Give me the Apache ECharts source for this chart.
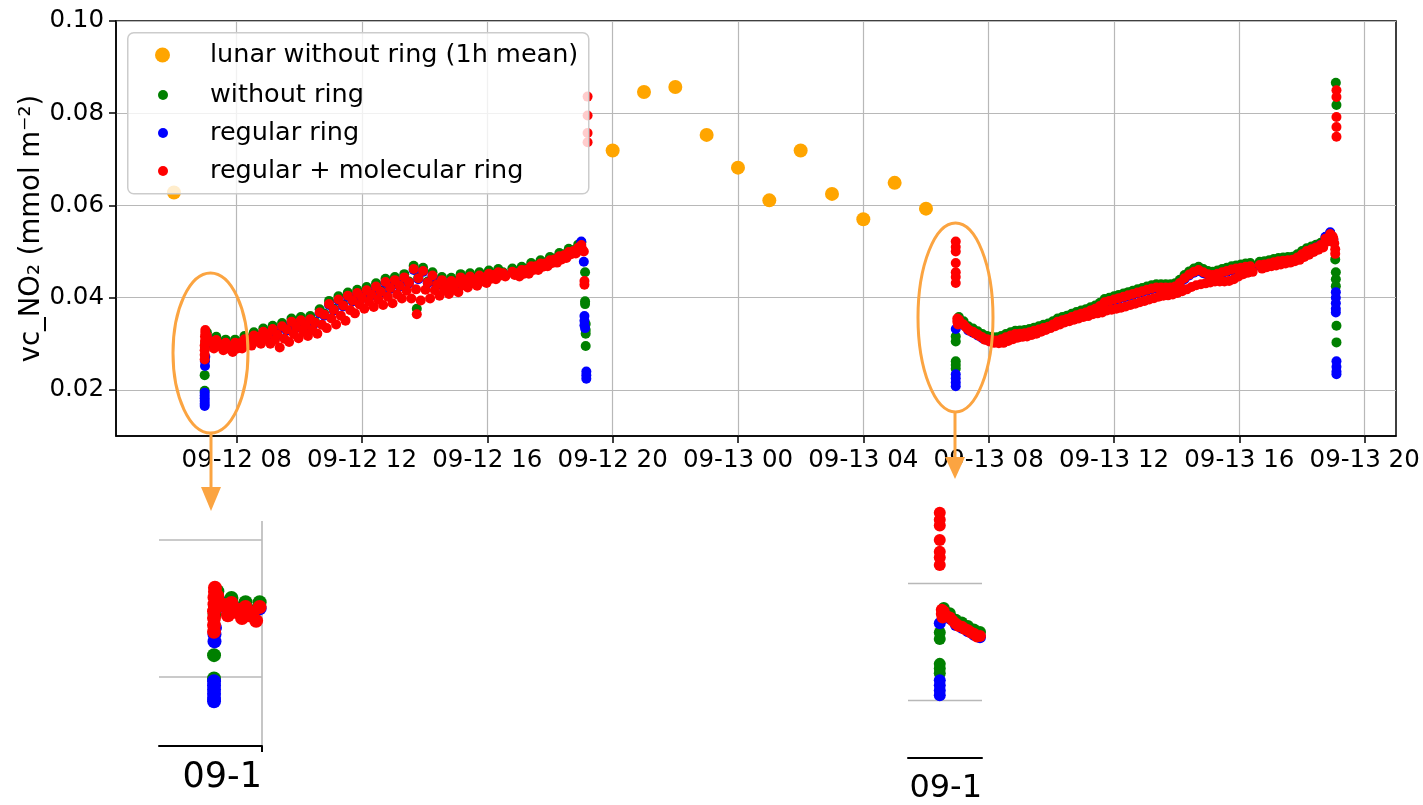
<!DOCTYPE html>
<html>
<head>
<meta charset="utf-8">
<title>vc_NO2</title>
<script src="https://cdn.jsdelivr.net/npm/echarts@6/dist/echarts.min.js"></script>
<style>
body{margin:0;background:#fff;}
#main{width:1423px;height:805px;}
</style>
</head>
<body>
<div id="main"></div>
<script>
// x = hours since 09-12 00:00
var names = ['lunar without ring (1h mean)', 'without ring', 'regular ring', 'regular + molecular ring'];
var xTicks = [8, 12, 16, 20, 24, 28, 32, 36, 40, 44];
var yTicks = [0.02, 0.04, 0.06, 0.08, 0.10];

var lunarPts = [[6.0,0.0628],[20,0.0719],[21,0.0846],[22,0.0857],[23,0.0753],[24,0.0682],
	[25,0.0611],[26,0.0719],[27,0.0625],[28,0.0570],[29,0.0649],[30,0.0593]];

// day 1 (09-12), upper part of the band
var d1Time = [7.05,7.2,7.35,7.5,7.65,7.8,7.95,8.1,8.25,8.4,8.55,8.7,8.85,9.0,9.15,9.3,9.45,9.6,9.75,9.9,
	10.05,10.2,10.35,10.5,10.65,10.8,10.95,11.1,11.25,11.4,11.55,11.7,11.85,12.0,12.15,12.3,12.45,12.6,12.75,12.9,
	13.05,13.2,13.35,13.5,13.65,13.8,13.95,14.1,14.25,14.4,14.55,14.7,14.85,15.0,15.15,15.3,15.45,15.6,15.75,15.9,
	16.05,16.2,16.35,16.5,16.8,16.95,17.1,17.25,17.4,17.55,17.7,17.85,18.0,18.15,18.3,18.45,18.6,18.75,18.9,19.0];
var d1Green = [.0325,.0307,.0315,.0300,.0309,.0296,.0309,.0303,.0317,.0310,.0325,.0317,.0333,.0322,.0339,.0322,.0345,.0333,.0355,.0339,
	.0358,.0342,.0360,.0348,.0375,.0365,.0393,.0376,.0403,.0385,.0411,.0396,.0417,.0402,.0423,.0409,.0431,.0415,.0441,.0423,
	.0445,.0428,.0451,.0435,.0469,.0444,.0465,.0435,.0455,.0431,.0445,.0429,.0443,.0433,.0451,.0440,.0453,.0441,.0455,.0446,
	.0459,.0451,.0462,.0455,.0463,.0455,.0467,.0462,.0475,.0470,.0481,.0476,.0488,.0485,.0497,.0494,.0506,.0503,.0515,.0520];
var d1Blue = [.0316,.0303,.0306,.0296,.0300,.0292,.0300,.0299,.0308,.0306,.0316,.0313,.0324,.0318,.0330,.0318,.0336,.0329,.0346,.0335,
	.0349,.0338,.0351,.0344,.0366,.0361,.0384,.0372,.0394,.0381,.0402,.0392,.0408,.0398,.0414,.0405,.0422,.0411,.0432,.0419,
	.0436,.0424,.0442,.0431,.0460,.0440,.0456,.0431,.0446,.0427,.0436,.0425,.0434,.0429,.0442,.0436,.0444,.0437,.0446,.0442,
	.0450,.0447,.0453,.0451,.0454,.0451,.0458,.0458,.0466,.0466,.0472,.0472,.0479,.0481,.0488,.0490,.0497,.0499,.0506,.0522];
var d1Red = [.0318,.0305,.0308,.0298,.0302,.0294,.0302,.0301,.0310,.0308,.0318,.0315,.0326,.0320,.0332,.0320,.0338,.0331,.0348,.0337,
	.0351,.0340,.0353,.0346,.0368,.0363,.0386,.0374,.0396,.0383,.0404,.0394,.0410,.0400,.0416,.0407,.0424,.0413,.0434,.0421,
	.0438,.0426,.0444,.0433,.0462,.0442,.0458,.0433,.0448,.0429,.0438,.0427,.0436,.0431,.0444,.0438,.0446,.0439,.0448,.0444,
	.0452,.0449,.0455,.0453,.0456,.0453,.0460,.0460,.0468,.0468,.0474,.0474,.0481,.0483,.0490,.0492,.0499,.0501,.0508,.0514];
// day 1, lower part of the band
var d1TimeB = [7.125,7.275,7.425,7.575,7.725,7.875,8.025,8.175,8.325,8.475,8.625,8.775,8.925,9.075,9.225,9.375,9.525,9.675,9.825,9.975,
	10.125,10.275,10.425,10.575,10.725,10.875,11.025,11.175,11.325,11.475,11.625,11.775,11.925,12.075,12.225,12.375,12.525,12.675,12.825,12.975,
	13.125,13.275,13.425,13.575,13.725,13.875,14.025,14.175,14.325,14.475,14.625,14.775,14.925,15.075,15.225,15.375,15.525,15.675,15.825,15.975,
	16.125,16.275,16.425,16.575,16.875,17.025,17.175,17.325,17.475,17.625,17.775,17.925,18.075,18.225,18.375,18.525,18.675,18.825,18.975,19.04];
var d1RedB = [.0305,.0290,.0295,.0286,.0290,.0282,.0290,.0290,.0299,.0296,.0305,.0300,.0310,.0300,.0308,.0292,.0311,.0304,.0321,.0312,
	.0327,.0317,.0330,.0322,.0341,.0334,.0355,.0342,.0361,.0350,.0373,.0366,.0385,.0376,.0391,.0380,.0396,.0384,.0402,.0388,
	.0407,.0398,.0415,.0398,.0418,.0394,.0417,.0398,.0416,.0404,.0417,.0408,.0417,.0412,.0427,.0422,.0431,.0426,.0435,.0432,
	.0441,.0440,.0448,.0446,.0449,.0446,.0452,.0452,.0460,.0460,.0467,.0468,.0475,.0476,.0483,.0486,.0494,.0496,.0503,.0504];

// day 2 (09-13), upper part of the band
var d2Time = [31.05,31.2,31.35,31.5,31.65,31.8,31.95,32.1,32.25,32.4,32.55,32.7,32.85,33.0,33.15,33.3,33.45,33.6,33.75,33.9,
	34.05,34.2,34.35,34.5,34.65,34.8,34.95,35.1,35.25,35.4,35.55,35.7,35.85,36.0,36.15,36.3,36.45,36.6,36.75,36.9,
	37.05,37.2,37.35,37.5,37.65,37.8,37.95,38.1,38.25,38.4,38.55,38.7,38.85,39.0,39.15,39.3,39.45,39.6,39.75,39.9,
	40.05,40.2,40.35,40.65,40.8,40.95,41.1,41.25,41.4,41.55,41.7,41.85,42.0,42.15,42.3,42.45,42.6,42.75,42.9,43.0];
var d2Green = [.0358,.0349,.0338,.0333,.0327,.0321,.0317,.0315,.0314,.0317,.0321,.0325,.0328,.0329,.0330,.0332,.0335,.0338,.0341,.0344,
	.0349,.0355,.0358,.0361,.0365,.0369,.0372,.0375,.0379,.0383,.0389,.0397,.0400,.0403,.0406,.0409,.0412,.0415,.0418,.0421,
	.0424,.0427,.0429,.0429,.0429,.0429,.0431,.0439,.0449,.0457,.0463,.0467,.0462,.0458,.0456,.0459,.0462,.0465,.0468,.0470,
	.0472,.0474,.0475,.0478,.0479,.0481,.0484,.0486,.0487,.0488,.0489,.0494,.0501,.0507,.0511,.0515,.0519,.0531,.0540,.0520];
var d2Blue = [.0350,.0340,.0329,.0324,.0318,.0312,.0308,.0306,.0305,.0308,.0312,.0316,.0319,.0320,.0321,.0323,.0326,.0329,.0332,.0335,
	.0340,.0346,.0349,.0352,.0356,.0360,.0363,.0366,.0370,.0374,.0380,.0388,.0391,.0394,.0397,.0400,.0403,.0406,.0409,.0412,
	.0415,.0418,.0420,.0420,.0420,.0420,.0422,.0430,.0440,.0448,.0454,.0458,.0453,.0449,.0447,.0450,.0453,.0456,.0459,.0461,
	.0463,.0465,.0466,.0469,.0470,.0472,.0475,.0477,.0478,.0479,.0480,.0485,.0492,.0499,.0504,.0509,.0515,.0532,.0542,.0526];
var d2Red = [.0352,.0342,.0331,.0326,.0320,.0314,.0310,.0308,.0307,.0310,.0314,.0318,.0321,.0322,.0323,.0325,.0328,.0331,.0334,.0337,
	.0342,.0348,.0351,.0354,.0358,.0362,.0365,.0368,.0372,.0376,.0382,.0390,.0393,.0396,.0399,.0402,.0405,.0408,.0411,.0414,
	.0417,.0420,.0422,.0422,.0422,.0422,.0424,.0432,.0442,.0450,.0456,.0460,.0455,.0451,.0449,.0452,.0455,.0458,.0461,.0463,
	.0465,.0467,.0468,.0471,.0472,.0474,.0477,.0479,.0480,.0481,.0482,.0487,.0494,.0501,.0505,.0509,.0514,.0528,.0538,.0528];
// day 2, lower part of the band
var d2TimeB = [31.125,31.275,31.425,31.575,31.725,31.875,32.025,32.175,32.325,32.475,32.625,32.775,32.925,33.075,33.225,33.375,33.525,33.675,33.825,33.975,
	34.125,34.275,34.425,34.575,34.725,34.875,35.025,35.175,35.325,35.475,35.625,35.775,35.925,36.075,36.225,36.375,36.525,36.675,36.825,36.975,
	37.125,37.275,37.425,37.575,37.725,37.875,38.025,38.175,38.325,38.475,38.625,38.775,38.925,39.075,39.225,39.375,39.525,39.675,39.825,39.975,
	40.125,40.275,40.425,40.725,40.875,41.025,41.175,41.325,41.475,41.625,41.775,41.925,42.075,42.225,42.375,42.525,42.675,42.825,42.975,43.03];
var d2RedB = [.0344,.0336,.0327,.0322,.0316,.0309,.0305,.0302,.0301,.0302,.0306,.0310,.0313,.0315,.0316,.0319,.0322,.0326,.0330,.0334,
	.0338,.0342,.0346,.0349,.0352,.0355,.0358,.0360,.0364,.0366,.0368,.0372,.0374,.0376,.0378,.0381,.0384,.0387,.0390,.0393,
	.0396,.0399,.0402,.0404,.0405,.0407,.0410,.0414,.0418,.0423,.0427,.0429,.0431,.0433,.0435,.0435,.0435,.0436,.0440,.0446,
	.0451,.0454,.0456,.0463,.0466,.0468,.0470,.0472,.0474,.0476,.0479,.0482,.0488,.0493,.0499,.0504,.0509,.0522,.0533,.0518];

// start / end jumps of each day and single outliers
var greenSpikes = [[6.98,0.0198],[6.98,0.0232],[6.99,0.0292],[7.0,0.0302],[13.75,0.0376],
	[19.12,0.0455],[19.12,0.0392],[19.12,0.0386],[19.14,0.0343],[19.14,0.0330],[19.14,0.0322],[19.14,0.0295],
	[30.95,0.0316],[30.95,0.0305],[30.95,0.0262],[30.95,0.0254],[30.95,0.0246],
	[43.06,0.0483],[43.08,0.0455],[43.08,0.0440],[43.08,0.0425],[43.1,0.0339],[43.1,0.0303],[43.08,0.0866],[43.1,0.0818]];
var blueSpikes = [[6.98,0.0165],[6.98,0.0170],[6.98,0.0176],[6.98,0.0182],[6.98,0.0188],[6.98,0.0194],[6.99,0.0252],[6.99,0.0262],[7.0,0.0272],
	[19.08,0.0478],[19.1,0.0360],[19.1,0.0350],[19.1,0.0340],[19.12,0.0334],[19.16,0.0240],[19.16,0.0232],[19.16,0.0224],
	[30.95,0.0332],[30.95,0.0234],[30.95,0.0225],[30.95,0.0216],[30.95,0.0208],
	[43.08,0.0412],[43.08,0.0400],[43.08,0.0388],[43.08,0.0376],[43.08,0.0368],[43.1,0.0262],[43.1,0.0250],[43.1,0.0240],[43.1,0.0234]];
var redSpikes = [[6.98,0.0266],[6.98,0.0276],[6.98,0.0286],[6.98,0.0296],[6.99,0.0306],[6.99,0.0316],[7.0,0.0324],[7.0,0.0330],[13.75,0.0364],
	[19.08,0.0500],[19.1,0.0436],[19.1,0.0428],[19.2,0.0836],[19.2,0.0795],[19.2,0.0757],[19.2,0.0737],
	[30.95,0.0522],[30.95,0.0510],[30.95,0.0500],[30.95,0.0475],[30.95,0.0455],[30.95,0.0445],[30.95,0.0432],[31.0,0.0355],[31.0,0.0348],[31.02,0.0342],
	[43.1,0.0850],[43.1,0.0835],[43.1,0.0792],[43.1,0.0770],[43.1,0.0749],[43.06,0.0505],[43.06,0.0495]];

function pairs(t, v) {
	return t.map(function (h, i) { return [h, v[i]]; });
}
var greenData = pairs(d1Time, d1Green).concat(pairs(d2Time, d2Green), greenSpikes);
var blueData = pairs(d1Time, d1Blue).concat(pairs(d2Time, d2Blue), blueSpikes);
var redData = pairs(d1Time, d1Red).concat(pairs(d1TimeB, d1RedB), pairs(d2Time, d2Red), pairs(d2TimeB, d2RedB), redSpikes);

function tickName(h) {
	var day = h < 24 ? '09-12' : '09-13';
	var hh = Math.round(h) % 24;
	return day + ' ' + (hh < 10 ? '0' + hh : hh);
}

var FONT = 'DejaVu Sans';
var GRID_C = '#b8b8b8';
var ORANGE = '#fba441';

function makeSeries(g, big, small) {
	var base = {type: 'scatter', xAxisIndex: g, yAxisIndex: g, clip: true, silent: true};
	return [
		Object.assign({name: names[0], data: lunarPts, symbolSize: big, itemStyle: {color: '#ffa500', opacity: 1}}, base),
		Object.assign({name: names[1], data: greenData, symbolSize: small, itemStyle: {color: '#008000', opacity: 1}}, base),
		Object.assign({name: names[2], data: blueData, symbolSize: small, itemStyle: {color: '#0000ff', opacity: 1}}, base),
		Object.assign({name: names[3], data: redData, symbolSize: small, itemStyle: {color: '#ff0000', opacity: 1}}, base)
	];
}

var myChart = echarts.init(document.getElementById('main'));
var option = {
	animation: false,
	textStyle: {fontFamily: FONT},
	grid: [
		{left: 116, top: 21, width: 1280, height: 415, show: true, borderColor: '#000', borderWidth: 1.5},
		{left: 159, top: 521, width: 103, height: 225},
		{left: 908, top: 482, width: 74, height: 281}
	],
	xAxis: [
		{
			type: 'value', gridIndex: 0, min: 4.15, max: 45.0,
			axisLine: {lineStyle: {color: '#000', width: 1.5}},
			axisTick: {customValues: xTicks, length: 7, lineStyle: {color: '#000', width: 1.5}},
			axisLabel: {customValues: xTicks, formatter: tickName, color: '#000', fontSize: 24.5, margin: 12, fontFamily: FONT},
			splitLine: {show: true, lineStyle: {color: GRID_C, width: 1.2}}
		},
		{
			type: 'value', gridIndex: 1, min: 5.81, max: 8.0,
			axisLine: {lineStyle: {color: '#000', width: 2}},
			axisTick: {customValues: [8], length: 6, lineStyle: {color: '#000', width: 2}},
			axisLabel: {customValues: [8], formatter: function () { return '09-1'; }, align: 'right',
				color: '#000', fontSize: 35, margin: 14, fontFamily: FONT},
			splitLine: {show: true, lineStyle: {color: GRID_C, width: 1.6}}
		},
		{
			type: 'value', gridIndex: 2, min: 30.16, max: 32.0,
			axisLine: {lineStyle: {color: '#000', width: 2}},
			axisTick: {show: false, customValues: [32]},
			axisLabel: {customValues: [32], formatter: function () { return '09-1'; }, align: 'right',
				color: '#000', fontSize: 32, margin: 15, fontFamily: FONT},
			splitLine: {show: false}
		}
	],
	yAxis: [
		{
			type: 'value', gridIndex: 0, min: 0.01, max: 0.10,
			name: 'vc_NO₂ (mmol m⁻²)', nameLocation: 'middle', nameGap: 70, nameRotate: 90, nameMoveOverlap: false,
			nameTextStyle: {fontSize: 27.5, color: '#000', fontFamily: FONT},
			axisLine: {lineStyle: {color: '#000', width: 1.5}},
			axisTick: {customValues: yTicks, length: 7, lineStyle: {color: '#000', width: 1.5}},
			axisLabel: {customValues: yTicks, formatter: function (v) { return v.toFixed(2); },
				color: '#000', fontSize: 24.5, margin: 12, fontFamily: FONT},
			splitLine: {show: true, lineStyle: {color: GRID_C, width: 1.2}}
		},
		{
			type: 'value', gridIndex: 1, min: 0.01, max: 0.0427,
			axisLine: {show: false},
			axisTick: {show: false, customValues: [0.02, 0.04]},
			axisLabel: {show: false, customValues: [0.02, 0.04]},
			splitLine: {show: true, lineStyle: {color: GRID_C, width: 1.6}}
		},
		{
			type: 'value', gridIndex: 2, min: 0.01, max: 0.0575,
			axisLine: {show: false},
			axisTick: {show: false, customValues: [0.02, 0.04]},
			axisLabel: {show: false, customValues: [0.02, 0.04]},
			splitLine: {show: true, lineStyle: {color: GRID_C, width: 1.4}}
		}
	],
	legend: [
		{
			data: [names[0]], left: 155, top: 41, padding: 0, icon: 'circle',
			itemWidth: 15, itemHeight: 15, itemGap: 10, selectedMode: false,
			textStyle: {fontSize: 25.5, lineHeight: 28, color: '#000', fontFamily: FONT, padding: [0, 0, 0, 35]}
		},
		{
			data: names.slice(1), orient: 'vertical', left: 158, top: 81, padding: 0, icon: 'circle',
			itemWidth: 10, itemHeight: 10, itemGap: 10, selectedMode: false,
			textStyle: {fontSize: 25.5, lineHeight: 28, color: '#000', fontFamily: FONT, padding: [0, 0, 0, 37]}
		}
	],
	graphic: [
		{type: 'rect', left: 127, top: 32, z: 3, silent: true,
			shape: {width: 461, height: 161, r: 6},
			style: {fill: 'rgba(255,255,255,0.8)', stroke: '#cccccc', lineWidth: 1.5}},
		// zoom markers
		{type: 'ellipse', z: 5, silent: true, shape: {cx: 210.5, cy: 353, rx: 37.5, ry: 80},
			style: {fill: 'none', stroke: ORANGE, lineWidth: 3}},
		{type: 'line', z: 5, silent: true, shape: {x1: 211, y1: 433, x2: 211, y2: 490},
			style: {stroke: ORANGE, lineWidth: 3}},
		{type: 'polygon', z: 5, silent: true, shape: {points: [[201, 487], [221, 487], [211, 511]]},
			style: {fill: ORANGE}},
		{type: 'ellipse', z: 5, silent: true, shape: {cx: 955.5, cy: 317.5, rx: 37.5, ry: 94.5},
			style: {fill: 'none', stroke: ORANGE, lineWidth: 3}},
		{type: 'line', z: 5, silent: true, shape: {x1: 955, y1: 411, x2: 955, y2: 460},
			style: {stroke: ORANGE, lineWidth: 3}},
		{type: 'polygon', z: 5, silent: true, shape: {points: [[945, 457], [965, 457], [955, 479]]},
			style: {fill: ORANGE}}
	],
	series: makeSeries(0, 14, 10).concat(makeSeries(1, 20, 14), makeSeries(2, 18, 12))
};
myChart.setOption(option);
</script>
</body>
</html>
